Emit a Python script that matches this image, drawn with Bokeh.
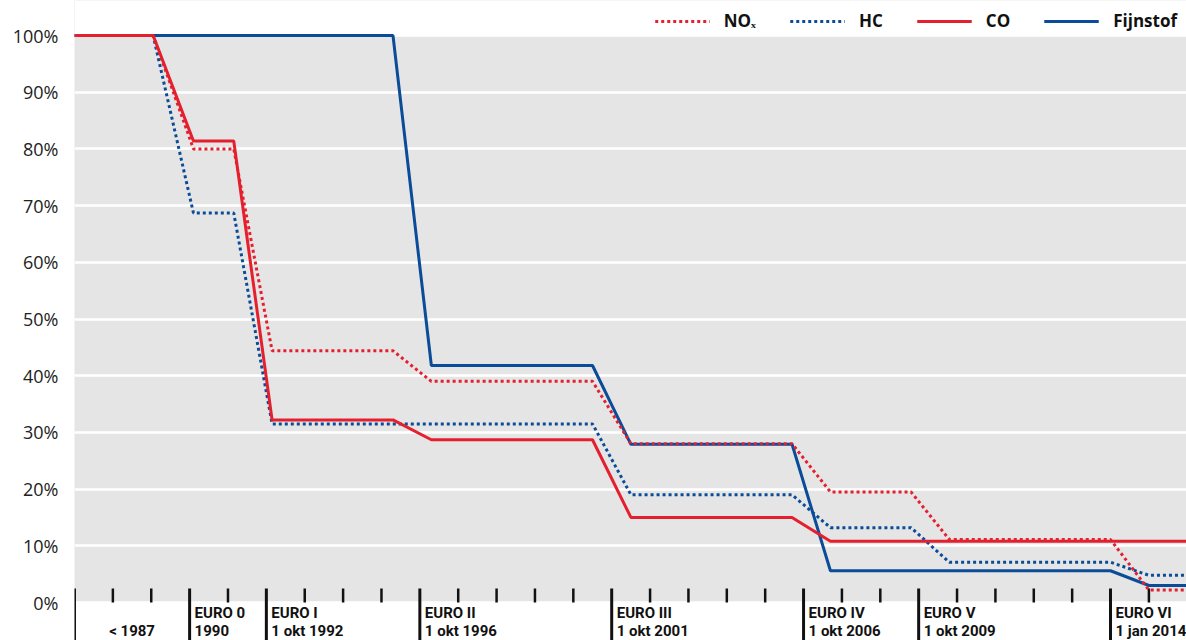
from bokeh.plotting import figure
from bokeh.models import (Range1d, FixedTicker, Label, Legend, LegendItem, BoxAnnotation)
from bokeh.embed import file_html
from bokeh.resources import INLINE

# ---- data ----
nox_x = [1987, 1989.05, 1990.1, 1991.15, 1992.15, 1995.3, 1996.3, 2000.5, 2001.5,
         2005.7, 2006.7, 2008.8, 2009.8, 2014.0, 2015.0, 2016.1]
nox_y = [100, 100, 80, 80, 44.4, 44.4, 39, 39, 28, 28, 19.5, 19.5, 11.1, 11.1, 2.2, 2.2]

hc_x = [1987, 1989.05, 1990.1, 1991.15, 1992.15, 2000.5, 2001.5, 2005.7, 2006.7,
        2008.8, 2009.8, 2014.0, 2015.0, 2016.1]
hc_y = [100, 100, 68.7, 68.7, 31.5, 31.5, 19, 19, 13.2, 13.2, 7.1, 7.1, 4.8, 4.8]

co_x = [1987, 1989.05, 1990.1, 1991.15, 1992.15, 1995.3, 1996.3, 2000.5, 2001.5,
        2005.7, 2006.7, 2016.1]
co_y = [100, 100, 81.4, 81.4, 32.2, 32.2, 28.7, 28.7, 15, 15, 10.8, 10.8]

pm_x = [1987, 1995.3, 1996.3, 2000.5, 2001.5, 2005.7, 2006.7, 2014.0, 2015.0, 2016.1]
pm_y = [100, 100, 41.8, 41.8, 27.9, 27.9, 5.6, 5.6, 3.0, 3.0]

series_names = ["NOₓ", "HC", "CO", "Fijnstof"]

euro_years = [1990, 1992, 1996, 2001, 2006, 2009, 2014]
euro_names = ["EURO 0", "EURO I", "EURO II", "EURO III", "EURO IV", "EURO V", "EURO VI"]
euro_dates = ["1990", "1 okt 1992", "1 okt 1996", "1 okt 2001", "1 okt 2006", "1 okt 2009", "1 jan 2014"]
start_year = 1987
start_label = "< 1987"
major_years = [start_year] + euro_years
minor_years = [y for y in range(1988, 2016) if y not in euro_years]

y_ticks = [0, 10, 20, 30, 40, 50, 60, 70, 80, 90, 100]
y_tick_labels = [f"{t}%" for t in y_ticks]

RED = "#e5202e"
BLUE = "#0b4c98"
GRAY = "#e5e5e5"
INK = "#111111"

# vertical geometry: 5.67 px per percent; 35 px above 100%, 38 px below 0%
PX = 5.67
Y_HI = 100 + 35 / PX
Y_LO = -38 / PX
TICK_UP = 14 / PX

p = figure(width=1186, height=640, output_backend="svg", toolbar_location=None,
           x_range=Range1d(1987, 2015.98), y_range=Range1d(Y_LO, Y_HI),
           min_border_left=74, min_border_right=0, min_border_top=0, min_border_bottom=0)
p.background_fill_color = GRAY
p.border_fill_color = "white"
p.outline_line_color = None

# white outside the 0-100% band
p.add_layout(BoxAnnotation(bottom=100, fill_color="white", fill_alpha=1, line_color=None, level="underlay"))
p.add_layout(BoxAnnotation(top=0, fill_color="white", fill_alpha=1, line_color=None, level="underlay"))

# grid
p.xgrid.grid_line_color = None
p.ygrid.grid_line_color = "white"
p.ygrid.grid_line_width = 2.5
p.ygrid.ticker = FixedTicker(ticks=y_ticks)

# y axis
p.yaxis.ticker = FixedTicker(ticks=y_ticks)
p.yaxis.major_label_overrides = {t: l for t, l in zip(y_ticks, y_tick_labels)}
p.yaxis.axis_line_color = None
p.yaxis.major_tick_line_color = None
p.yaxis.minor_tick_line_color = None
p.yaxis.major_tick_in = 0
p.yaxis.major_tick_out = 0
p.yaxis.minor_tick_in = 0
p.yaxis.minor_tick_out = 0
p.yaxis.major_label_standoff = 16
p.yaxis.major_label_text_font = "Open Sans"
p.yaxis.major_label_text_font_size = "18px"
p.yaxis.major_label_text_color = "#222222"

p.xaxis.visible = False

# year ticks
p.segment(x0=minor_years, y0=[0] * len(minor_years), x1=minor_years, y1=[TICK_UP] * len(minor_years),
          line_color=INK, line_width=2.5)
p.segment(x0=major_years, y0=[Y_LO] * len(major_years), x1=major_years, y1=[TICK_UP] * len(major_years),
          line_color=INK, line_width=3)

# lines (draw order: Fijnstof, HC, CO, NOx)
r_pm = p.line(pm_x, pm_y, line_color=BLUE, line_width=3)
r_hc = p.line(hc_x, hc_y, line_color=BLUE, line_width=3, line_dash="3 3")
r_co = p.line(co_x, co_y, line_color=RED, line_width=3)
r_nox = p.line(nox_x, nox_y, line_color=RED, line_width=3, line_dash="3 3")

legend = Legend(items=[LegendItem(label=series_names[0], renderers=[r_nox]),
                       LegendItem(label=series_names[1], renderers=[r_hc]),
                       LegendItem(label=series_names[2], renderers=[r_co]),
                       LegendItem(label=series_names[3], renderers=[r_pm])],
                orientation="horizontal", location="top_right",
                glyph_width=55, glyph_height=20, label_height=20, label_standoff=14, spacing=34,
                padding=0, margin=9, border_line_color=None, background_fill_alpha=0,
                label_text_font="Open Sans", label_text_font_style="bold",
                label_text_font_size="17px", label_text_color=INK)
p.add_layout(legend, "center")

# x labels
lab_font = "Roboto"
line1_y = -10 / PX
line2_y = -28 / PX
for yr, nm, dt in zip(euro_years, euro_names, euro_dates):
    p.add_layout(Label(x=yr, y=line1_y, x_offset=5, text=nm, text_baseline="middle", text_align="left",
                       text_font=lab_font, text_font_style="bold", text_font_size="15px",
                       text_color=INK))
    p.add_layout(Label(x=yr, y=line2_y, x_offset=5, text=dt, text_baseline="middle", text_align="left",
                       text_font=lab_font, text_font_style="bold", text_font_size="15px",
                       text_color=INK))
p.add_layout(Label(x=(start_year + euro_years[0]) / 2, y=line2_y, text=start_label, text_baseline="middle",
                   text_align="center", text_font=lab_font, text_font_style="bold",
                   text_font_size="15px", text_color=INK))

open("out.html", "w").write(file_html(p, INLINE))
